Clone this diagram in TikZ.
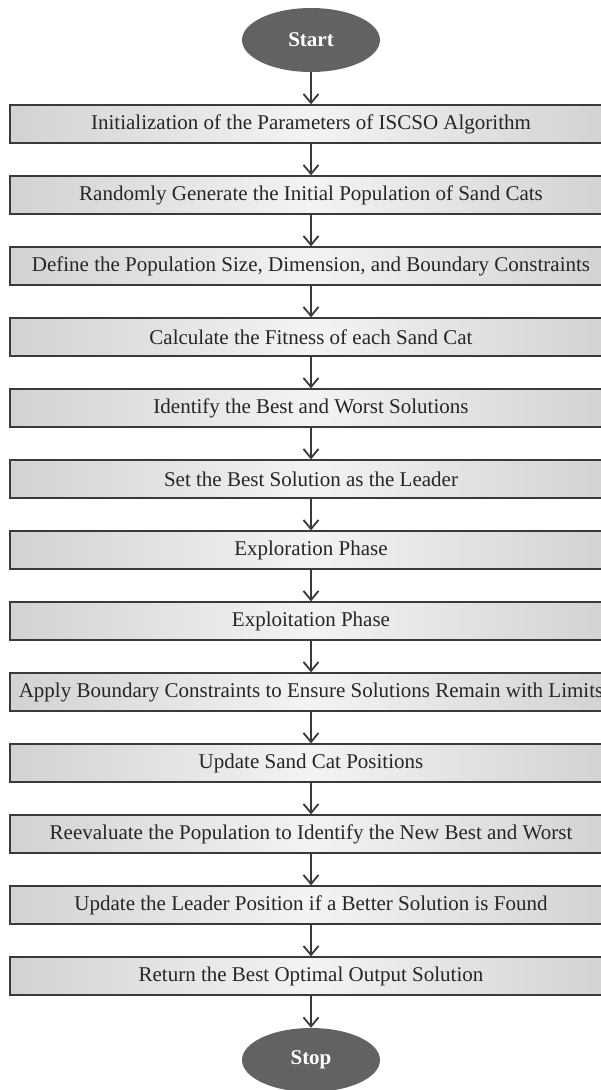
\documentclass[tikz,border=0pt]{standalone}
\usepackage{fontspec}
\setmainfont{Liberation Serif}
\usetikzlibrary{shapes.geometric,arrows.meta}
\definecolor{termfill}{HTML}{626262}
\definecolor{boxedge}{HTML}{D2D2D2}
\definecolor{boxmid}{HTML}{F3F3F3}
\definecolor{linecol}{HTML}{3A3A3A}
\tikzset{
  term/.style={ellipse, fill=termfill, draw=none, minimum width=138pt, minimum height=64pt, inner sep=0pt,
    text=white, font=\fontsize{21}{24}\selectfont\bfseries},
  stepbox/.style={rectangle, draw=linecol, line width=1.3pt, left color=boxedge, right color=boxedge, middle color=boxmid,
    minimum width=602pt, minimum height=38pt, inner sep=0pt, font=\fontsize{21}{24}\selectfont, text=black!85},
  arr/.style={draw=linecol, line width=1.8pt, -{Straight Barb[length=9pt,width=15pt,line width=1.8pt]}}
}
\begin{document}
\begin{tikzpicture}[x=1pt,y=-1pt]
\useasboundingbox[fill=white] (0,0) rectangle (601,1090);
\node[term] (start) at (311,40) {Start};
\node[stepbox] (b1) at (311,124) {Initialization of the Parameters of ISCSO Algorithm};
\node[stepbox] (b2) at (311,195) {Randomly Generate the Initial Population of Sand Cats};
\node[stepbox] (b3) at (311,266) {Define the Population Size, Dimension, and Boundary Constraints};
\node[stepbox] (b4) at (311,337) {Calculate the Fitness of each Sand Cat};
\node[stepbox] (b5) at (311,408) {Identify the Best and Worst Solutions};
\node[stepbox] (b6) at (311,479) {Set the Best Solution as the Leader};
\node[stepbox] (b7) at (311,550) {Exploration Phase};
\node[stepbox] (b8) at (311,621) {Exploitation Phase};
\node[stepbox] (b9) at (311,692) {Apply Boundary Constraints to Ensure Solutions Remain with Limits};
\node[stepbox] (b10) at (311,763) {Update Sand Cat Positions};
\node[stepbox] (b11) at (311,834) {Reevaluate the Population to Identify the New Best and Worst};
\node[stepbox] (b12) at (311,905) {Update the Leader Position if a Better Solution is Found};
\node[stepbox] (b13) at (311,976) {Return the Best Optimal Output Solution};
\node[term] (stop) at (311,1060) {Stop};
\draw[arr] (start.south) -- (b1.north);
\draw[arr] (b1.south) -- (b2.north);
\draw[arr] (b2.south) -- (b3.north);
\draw[arr] (b3.south) -- (b4.north);
\draw[arr] (b4.south) -- (b5.north);
\draw[arr] (b5.south) -- (b6.north);
\draw[arr] (b6.south) -- (b7.north);
\draw[arr] (b7.south) -- (b8.north);
\draw[arr] (b8.south) -- (b9.north);
\draw[arr] (b9.south) -- (b10.north);
\draw[arr] (b10.south) -- (b11.north);
\draw[arr] (b11.south) -- (b12.north);
\draw[arr] (b12.south) -- (b13.north);
\draw[arr] (b13.south) -- (stop.north);
\end{tikzpicture}
\end{document}
